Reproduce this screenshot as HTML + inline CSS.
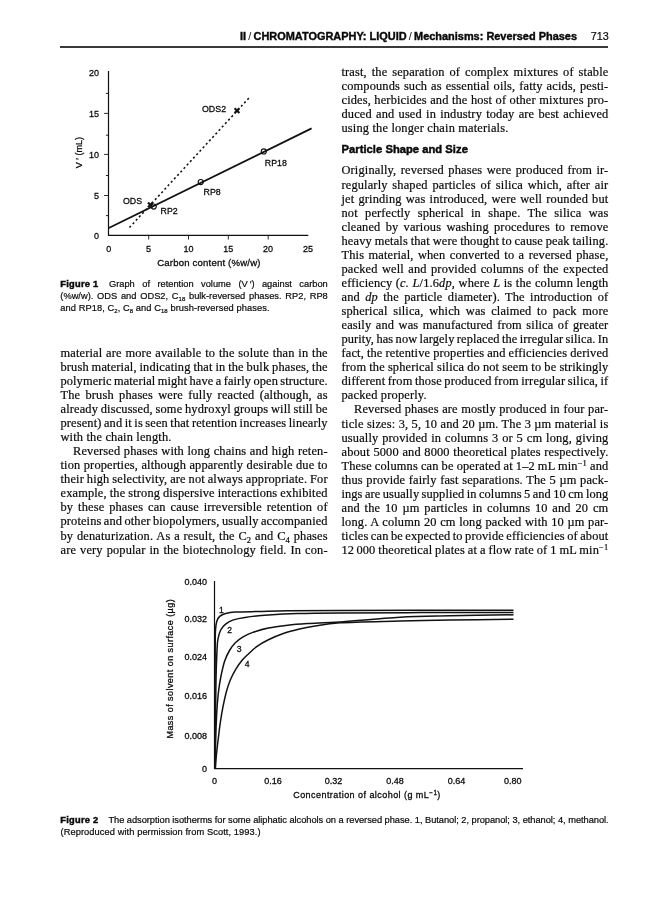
<!DOCTYPE html>
<html><head><meta charset="utf-8"><title>Chromatography: Reversed Phases</title>
<style>
html,body{margin:0;padding:0;background:#fff;}
body{width:668px;height:900px;position:relative;overflow:hidden;color:#111;font-family:"Liberation Serif",serif;}
.l{position:absolute;word-spacing:-0.8px;font-size:12.4px;line-height:14px;height:14px;white-space:nowrap;text-align:justify;text-align-last:justify;color:#0a0a0a;-webkit-text-stroke:0.2px #0a0a0a;}
.th{margin-right:2.2px;}
.l.n{text-align:left;text-align-last:left;word-spacing:0;letter-spacing:0.17px;}
.l sub{font-size:8.5px;line-height:0;vertical-align:-2.5px;}
.l sup{font-size:8.5px;line-height:0;vertical-align:4.5px;}
.s{position:absolute;font-family:"Liberation Sans",sans-serif;white-space:nowrap;color:#0a0a0a;-webkit-text-stroke:0.2px #0a0a0a;}
.fl{display:inline-block;text-align:left;text-align-last:left;letter-spacing:0.25px;-webkit-text-stroke:0.45px #0a0a0a;margin-right:3px;}
.cap{font-size:9.3px;line-height:11.7px;height:11.7px;}
.sl{font-weight:normal;-webkit-text-stroke:0;margin:0 2.2px;}
.j{text-align:justify;text-align-last:justify;}
.cap sub{font-size:6px;line-height:0;vertical-align:-1.5px;}
svg{position:absolute;left:0;top:0;}
svg text{font-family:"Liberation Sans",sans-serif;fill:#0a0a0a;stroke:#0a0a0a;stroke-width:0.28px;}
</style></head><body>
<!-- header -->
<div class="s" id="hdr" style="left:240px;top:28.7px;font-size:10.95px;font-weight:bold;line-height:14px;-webkit-text-stroke:0.4px #0a0a0a;">II<span class="sl">/</span>CHROMATOGRAPHY: LIQUID<span class="sl">/</span>Mechanisms: Reversed Phases</div>
<div class="s" id="pg" style="left:590.8px;top:28.7px;font-size:10.8px;line-height:14px;">713</div>
<div style="position:absolute;left:60px;top:46.3px;width:548.3px;height:1.4px;background:#3a3a3a;"></div>

<div class="l" style="left:60.5px;top:346.00px;width:267.2px;letter-spacing:0.150px">material are more available to the solute than in the</div>
<div class="l" style="left:60.5px;top:360.00px;width:267.2px;letter-spacing:0.150px">brush material, indicating that in the bulk phases, the</div>
<div class="l" style="left:60.5px;top:374.00px;width:267.2px;letter-spacing:0.095px">polymeric material might have a fairly open structure.</div>
<div class="l" style="left:60.5px;top:388.00px;width:267.2px;letter-spacing:0.150px">The brush phases were fully reacted (although, as</div>
<div class="l" style="left:60.5px;top:402.00px;width:267.2px;letter-spacing:0.150px">already discussed, some hydroxyl groups will still be</div>
<div class="l" style="left:60.5px;top:416.00px;width:267.2px;letter-spacing:0.140px">present) and it is seen that retention increases linearly</div>
<div class="l n" style="left:60.5px;top:430.00px;width:267.2px">with the chain length.</div>
<div class="l" style="left:73.0px;top:444.00px;width:254.7px;letter-spacing:0.150px">Reversed phases with long chains and high reten-</div>
<div class="l" style="left:60.5px;top:458.00px;width:267.2px;letter-spacing:0.150px">tion properties, although apparently desirable due to</div>
<div class="l" style="left:60.5px;top:472.00px;width:267.2px;letter-spacing:0.150px">their high selectivity, are not always appropriate. For</div>
<div class="l" style="left:60.5px;top:486.00px;width:267.2px;letter-spacing:0.150px">example, the strong dispersive interactions exhibited</div>
<div class="l" style="left:60.5px;top:500.00px;width:267.2px;letter-spacing:0.150px">by these phases can cause irreversible retention of</div>
<div class="l" style="left:60.5px;top:514.00px;width:267.2px;letter-spacing:0.122px">proteins and other biopolymers, usually accompanied</div>
<div class="l" style="left:60.5px;top:529.00px;width:267.2px;letter-spacing:0.150px">by denaturization. As a result, the C<sub>2</sub> and C<sub>4</sub> phases</div>
<div class="l" style="left:60.5px;top:543.00px;width:267.2px;letter-spacing:0.150px">are very popular in the biotechnology field. In con-</div>
<div class="l" style="left:341.5px;top:65.00px;width:266.9px;letter-spacing:0.150px">trast, the separation of complex mixtures of stable</div>
<div class="l" style="left:341.5px;top:79.00px;width:266.9px;letter-spacing:0.150px">compounds such as essential oils, fatty acids, pesti-</div>
<div class="l" style="left:341.5px;top:93.00px;width:266.9px;letter-spacing:0.150px">cides, herbicides and the host of other mixtures pro-</div>
<div class="l" style="left:341.5px;top:107.00px;width:266.9px;letter-spacing:0.150px">duced and used in industry today are best achieved</div>
<div class="l n" style="left:341.5px;top:121.00px;width:266.9px">using the longer chain materials.</div>
<div class="l" style="left:341.5px;top:163.00px;width:266.9px;letter-spacing:0.150px">Originally, reversed phases were produced from ir-</div>
<div class="l" style="left:341.5px;top:178.00px;width:266.9px;letter-spacing:0.150px">regularly shaped particles of silica which, after air</div>
<div class="l" style="left:341.5px;top:192.00px;width:266.9px;letter-spacing:0.150px">jet grinding was introduced, were well rounded but</div>
<div class="l" style="left:341.5px;top:206.00px;width:266.9px;letter-spacing:0.150px">not perfectly spherical in shape. The silica was</div>
<div class="l" style="left:341.5px;top:220.00px;width:266.9px;letter-spacing:0.150px">cleaned by various washing procedures to remove</div>
<div class="l" style="left:341.5px;top:234.00px;width:266.9px;letter-spacing:0.150px">heavy metals that were thought to cause peak tailing.</div>
<div class="l" style="left:341.5px;top:248.00px;width:266.9px;letter-spacing:0.150px">This material, when converted to a reversed phase,</div>
<div class="l" style="left:341.5px;top:262.00px;width:266.9px;letter-spacing:0.150px">packed well and provided columns of the expected</div>
<div class="l" style="left:341.5px;top:276.00px;width:266.9px;letter-spacing:0.150px">efficiency (<i>c. L</i>/1.6<i>dp</i>, where <i>L</i> is the column length</div>
<div class="l" style="left:341.5px;top:290.00px;width:266.9px;letter-spacing:0.150px">and <i>dp</i> the particle diameter). The introduction of</div>
<div class="l" style="left:341.5px;top:304.00px;width:266.9px;letter-spacing:0.150px">spherical silica, which was claimed to pack more</div>
<div class="l" style="left:341.5px;top:318.00px;width:266.9px;letter-spacing:0.150px">easily and was manufactured from silica of greater</div>
<div class="l" style="left:341.5px;top:332.00px;width:266.9px;letter-spacing:0.092px">purity, has now largely replaced the irregular silica. In</div>
<div class="l" style="left:341.5px;top:346.00px;width:266.9px;letter-spacing:0.150px">fact, the retentive properties and efficiencies derived</div>
<div class="l" style="left:341.5px;top:360.00px;width:266.9px;letter-spacing:0.150px">from the spherical silica do not seem to be strikingly</div>
<div class="l" style="left:341.5px;top:374.00px;width:266.9px;letter-spacing:0.150px">different from those produced from irregular silica, if</div>
<div class="l n" style="left:341.5px;top:388.00px;width:266.9px">packed properly.</div>
<div class="l" style="left:354.0px;top:402.00px;width:254.39999999999998px;letter-spacing:0.150px">Reversed phases are mostly produced in four par-</div>
<div class="l" style="left:341.5px;top:417.00px;width:266.9px;letter-spacing:0.150px">ticle sizes: 3, 5, 10 and 20 µm. The 3 µm material is</div>
<div class="l" style="left:341.5px;top:431.00px;width:266.9px;letter-spacing:0.150px">usually provided in columns 3 or 5 cm long, giving</div>
<div class="l" style="left:341.5px;top:445.00px;width:266.9px;letter-spacing:0.150px">about 5000 and 8000 theoretical plates respectively.</div>
<div class="l" style="left:341.5px;top:459.00px;width:266.9px;letter-spacing:0.150px">These columns can be operated at 1–2 mL min<sup>−1</sup> and</div>
<div class="l" style="left:341.5px;top:473.00px;width:266.9px;letter-spacing:0.150px">thus provide fairly fast separations. The 5 µm pack-</div>
<div class="l" style="left:341.5px;top:487.00px;width:266.9px;letter-spacing:0.096px">ings are usually supplied in columns 5 and 10 cm long</div>
<div class="l" style="left:341.5px;top:501.00px;width:266.9px;letter-spacing:0.150px">and the 10 µm particles in columns 10 and 20 cm</div>
<div class="l" style="left:341.5px;top:515.00px;width:266.9px;letter-spacing:0.150px">long. A column 20 cm long packed with 10 µm par-</div>
<div class="l" style="left:341.5px;top:529.00px;width:266.9px;letter-spacing:0.132px">ticles can be expected to provide efficiencies of about</div>
<div class="l" style="left:341.5px;top:543.00px;width:266.9px;letter-spacing:0.150px">12<span class='th'></span>000 theoretical plates at a flow rate of 1 mL min<sup>−1</sup></div>

<div class="s" id="h2" style="left:341.6px;top:142.2px;font-size:11.2px;font-weight:bold;line-height:14px;-webkit-text-stroke:0.45px #0a0a0a;letter-spacing:0.03px">Particle Shape and Size</div>

<div class="s cap j" style="left:60.3px;top:278.9px;width:267.5px"><b class="fl">Figure 1</b> Graph of retention volume (V&#8201;′) against carbon</div>
<div class="s cap j" style="left:60.3px;top:291.0px;width:267.5px">(%w/w). ODS and ODS2, C<sub>18</sub> bulk-reversed phases. RP2, RP8</div>
<div class="s cap" style="left:60.3px;top:302.7px;letter-spacing:0.066px">and RP18, C<sub>2</sub>, C<sub>8</sub> and C<sub>18</sub> brush-reversed phases.</div>
<div class="s cap j" style="left:60.3px;top:815.1px;width:548.3px;letter-spacing:-0.05px"><b class="fl" style="margin-right:7.5px">Figure 2</b> The adsorption isotherms for some aliphatic alcohols on a reversed phase. 1, Butanol; 2, propanol; 3, ethanol; 4, methanol.</div>
<div class="s cap" style="left:60.5px;top:826.7px;letter-spacing:0.07px">(Reproduced with permission from Scott, 1993.)</div>
<svg width="668" height="900" viewBox="0 0 668 900">
<path d="M108.5 71V235.3H308.3" fill="none" stroke="#111" stroke-width="1.2"/>
<path d="M104.1 195.5H108.5M104.1 154.4H108.5M104.1 113.4H108.5M105.9 215.6H108.5M105.9 175.5H108.5M105.9 135.2H108.5M105.9 93.4H108.5M148.7 235.3v4.2M188.5 235.3v4.2M228.3 235.3v4.2M268.2 235.3v4.2" fill="none" stroke="#111" stroke-width="0.9"/>
<text transform="translate(99.0 238.5) scale(0.92 1)" font-size="9.8" text-anchor="end">0</text>
<text transform="translate(99.0 198.6) scale(0.92 1)" font-size="9.8" text-anchor="end">5</text>
<text transform="translate(99.0 158.3) scale(0.92 1)" font-size="9.8" text-anchor="end">10</text>
<text transform="translate(99.0 117.1) scale(0.92 1)" font-size="9.8" text-anchor="end">15</text>
<text transform="translate(99.0 75.6) scale(0.92 1)" font-size="9.8" text-anchor="end">20</text>
<text transform="translate(108.7 252.4) scale(0.92 1)" font-size="9.8" text-anchor="middle">0</text>
<text transform="translate(148.6 252.4) scale(0.92 1)" font-size="9.8" text-anchor="middle">5</text>
<text transform="translate(188.4 252.4) scale(0.92 1)" font-size="9.8" text-anchor="middle">10</text>
<text transform="translate(228.2 252.4) scale(0.92 1)" font-size="9.8" text-anchor="middle">15</text>
<text transform="translate(268.1 252.4) scale(0.92 1)" font-size="9.8" text-anchor="middle">20</text>
<text transform="translate(307.9 252.4) scale(0.92 1)" font-size="9.8" text-anchor="middle">25</text>
<text transform="translate(208.9 266.3) scale(1 1)" font-size="9.6" text-anchor="middle" letter-spacing="0.18">Carbon content (%w/w)</text>
<text transform="translate(82.3 152.6) rotate(-90) scale(0.95 1)" font-size="9.5" text-anchor="middle">V ′ (mL)</text>
<path d="M108.8 228L311.6 128.4" stroke="#111" stroke-width="1.8" fill="none"/>
<path d="M129.5 227.5L249.3 97.6" stroke="#111" stroke-width="1.55" stroke-dasharray="2.1 2.6" fill="none"/>
<circle cx="153.7" cy="206.5" r="2.55" fill="none" stroke="#111" stroke-width="1.15"/>
<circle cx="200.7" cy="182" r="2.55" fill="none" stroke="#111" stroke-width="1.15"/>
<circle cx="263.8" cy="151.4" r="2.55" fill="none" stroke="#111" stroke-width="1.15"/>
<path d="M148.0 202.4l4.8 4.8M148.0 207.20000000000002l4.8 -4.8" stroke="#111" stroke-width="2.1" fill="none"/>
<path d="M234.6 108.19999999999999l4.8 4.8M234.6 113.0l4.8 -4.8" stroke="#111" stroke-width="2.1" fill="none"/>
<text transform="translate(122.9 204.3) scale(0.92 1)" font-size="9.6" text-anchor="start">ODS</text>
<text transform="translate(160.6 214.20000000000002) scale(0.92 1)" font-size="9.6" text-anchor="start">RP2</text>
<text transform="translate(203.6 195.10000000000002) scale(0.92 1)" font-size="9.6" text-anchor="start">RP8</text>
<text transform="translate(264.8 165.8) scale(0.92 1)" font-size="9.6" text-anchor="start">RP18</text>
<text transform="translate(202 111.7) scale(0.92 1)" font-size="9.6" text-anchor="start">ODS2</text>
<path d="M214.5 580.9V768.7H523" fill="none" stroke="#111" stroke-width="1.2"/>
<text x="207" y="584.9" font-size="9" text-anchor="end">0.040</text>
<text x="207" y="622.1" font-size="9" text-anchor="end">0.032</text>
<text x="207" y="660.0" font-size="9" text-anchor="end">0.024</text>
<text x="207" y="699.1" font-size="9" text-anchor="end">0.016</text>
<text x="207" y="738.9" font-size="9" text-anchor="end">0.008</text>
<text x="207" y="772.4" font-size="9" text-anchor="end">0</text>
<text x="214.5" y="784.4" font-size="9" text-anchor="middle">0</text>
<text x="273.1" y="784.4" font-size="9" text-anchor="middle">0.16</text>
<text x="333.6" y="784.4" font-size="9" text-anchor="middle">0.32</text>
<text x="395.1" y="784.4" font-size="9" text-anchor="middle">0.48</text>
<text x="456.5" y="784.4" font-size="9" text-anchor="middle">0.64</text>
<text x="512.8" y="784.4" font-size="9" text-anchor="middle">0.80</text>
<text x="293.2" y="798.3" font-size="9" letter-spacing="0.45">Concentration of alcohol (g mL<tspan font-size="6.3" dy="-3.2">−1</tspan><tspan dy="3.2">)</tspan></text>
<text transform="translate(172.9 668.7) rotate(-90)" font-size="9" text-anchor="middle" letter-spacing="0.45">Mass of solvent on surface (µg)</text>
<path d="M214.9 768.0C214.9 756.7 214.9 719.7 215.0 700.0C215.1 680.3 215.1 661.7 215.2 650.0C215.3 638.3 215.2 634.8 215.5 630.0C215.8 625.2 216.1 623.6 216.8 621.3C217.5 619.0 218.2 617.7 219.7 616.4C221.2 615.1 223.0 614.2 225.6 613.5C228.2 612.8 229.8 612.4 235.3 612.1C240.8 611.8 249.9 611.7 258.7 611.5C267.5 611.3 274.3 611.0 287.9 610.8C301.4 610.6 318.0 610.5 340.0 610.4C362.0 610.3 391.1 610.3 420.0 610.3C448.9 610.3 497.9 610.2 513.5 610.2" fill="none" stroke="#111" stroke-width="1.5" stroke-linejoin="round"/>
<path d="M215.1 768.0C215.2 760.0 215.2 734.7 215.4 720.0C215.6 705.3 215.8 690.8 216.0 680.0C216.2 669.2 216.5 661.7 216.8 655.0C217.1 648.3 217.2 644.0 217.8 639.8C218.5 635.6 219.4 632.6 220.7 630.0C222.0 627.4 223.5 625.9 225.6 624.2C227.7 622.5 230.2 621.0 233.4 619.9C236.6 618.8 239.2 618.2 245.0 617.4C250.8 616.6 259.6 615.6 268.4 615.0C277.2 614.4 285.7 613.9 297.6 613.5C309.5 613.1 319.6 613.0 340.0 612.9C360.4 612.8 391.1 612.7 420.0 612.6C448.9 612.5 497.9 612.4 513.5 612.4" fill="none" stroke="#111" stroke-width="1.5" stroke-linejoin="round"/>
<path d="M215.2 768.0C215.3 763.3 215.4 749.1 215.7 740.0C215.9 730.9 216.3 721.1 216.7 713.3C217.1 705.5 217.6 699.5 218.3 693.3C219.0 687.1 219.9 681.4 221.0 676.0C222.1 670.6 223.2 665.5 224.6 661.2C226.0 657.0 227.7 653.6 229.5 650.5C231.3 647.4 233.0 645.0 235.3 642.7C237.6 640.4 240.2 638.5 243.1 636.8C246.0 635.1 248.6 633.8 252.8 632.4C257.0 631.0 262.5 629.3 268.4 628.1C274.2 626.9 281.4 626.0 287.9 625.2C294.4 624.5 298.6 624.2 307.3 623.6C316.0 623.0 324.6 623.0 340.0 621.9C355.4 620.8 381.7 618.2 400.0 617.2C418.3 616.2 431.1 616.2 450.0 615.8C468.9 615.4 502.9 615.0 513.5 614.8" fill="none" stroke="#111" stroke-width="1.5" stroke-linejoin="round"/>
<path d="M215.4 768.0C215.6 766.0 215.9 760.7 216.3 756.0C216.8 751.3 217.4 745.5 218.1 740.0C218.8 734.5 219.5 728.2 220.3 722.7C221.1 717.2 222.0 711.8 223.0 706.7C224.0 701.6 225.1 696.5 226.3 692.0C227.5 687.5 228.7 683.8 230.3 680.0C231.9 676.2 233.7 672.6 235.7 669.3C237.7 666.0 240.4 662.3 242.3 660.0C244.2 657.7 244.6 657.5 247.0 655.3C249.4 653.1 253.1 649.2 256.7 646.6C260.3 644.0 263.8 642.0 268.4 639.8C272.9 637.6 278.8 635.1 284.0 633.3C289.2 631.5 294.3 630.3 299.5 629.1C304.7 627.9 308.4 627.2 315.1 626.1C321.9 625.0 325.9 623.6 340.0 622.8C354.1 621.9 381.7 621.5 400.0 621.0C418.3 620.5 431.1 620.3 450.0 620.0C468.9 619.7 502.9 619.4 513.5 619.3" fill="none" stroke="#111" stroke-width="1.5" stroke-linejoin="round"/>
<text x="221.4" y="613.1" font-size="8.6" text-anchor="middle">1</text>
<text x="229.7" y="632.6" font-size="8.6" text-anchor="middle">2</text>
<text x="239.2" y="651.7" font-size="8.6" text-anchor="middle">3</text>
<text x="247.2" y="667.4" font-size="8.6" text-anchor="middle">4</text>
</svg>
</body></html>
